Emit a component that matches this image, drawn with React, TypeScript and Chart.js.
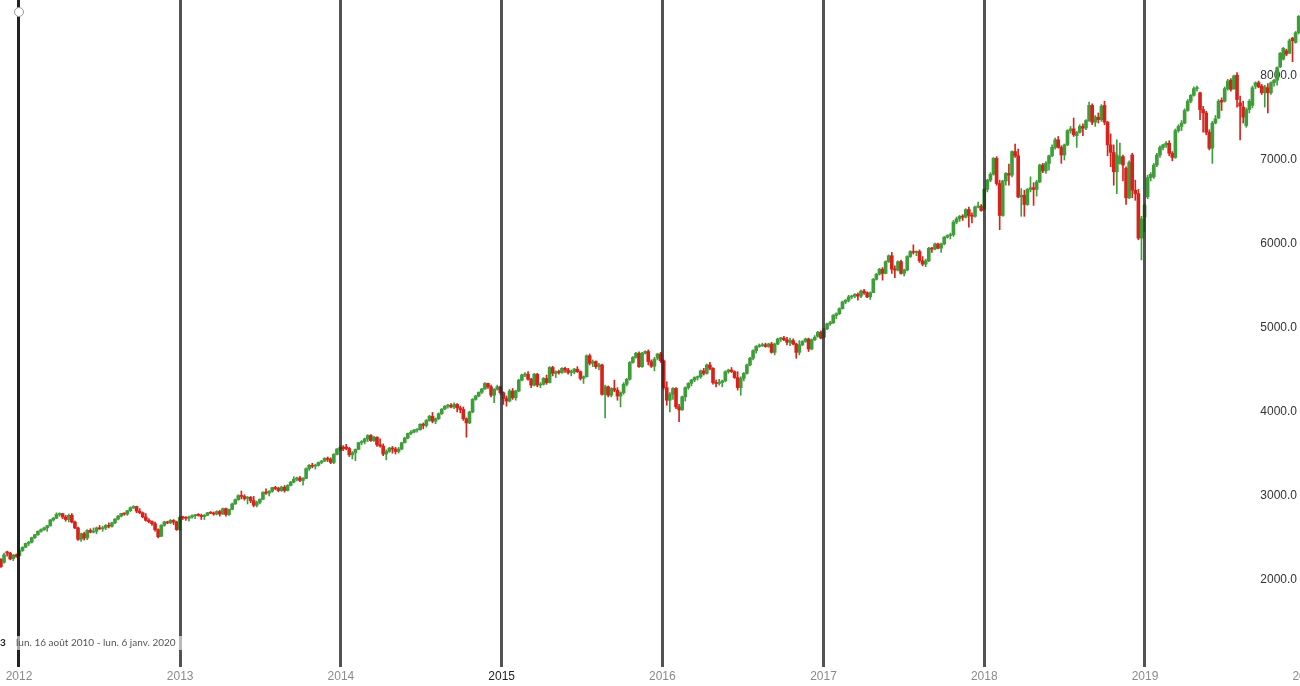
import { useEffect, useRef } from 'react';
import { Chart, registerables } from 'chart.js';

Chart.register(...registerables);

// Weekly OHLC rows [open, high, low, close], one array per year, each starting on its first Monday.
const w2011 = [
  [2340, 2350, 2235, 2250], [2245, 2255, 2150, 2160], [2210, 2320, 2200, 2300], [2335, 2345, 2285, 2320],
  [2320, 2330, 2240, 2250], [2255, 2305, 2230, 2295], [2300, 2310, 2270, 2280],
];
const w2012 = [
  [2290, 2360, 2285, 2350], [2350, 2395, 2340, 2390], [2390, 2440, 2385, 2435], [2435, 2460, 2410, 2450],
  [2450, 2510, 2440, 2505], [2505, 2545, 2495, 2540], [2540, 2585, 2530, 2580], [2580, 2610, 2570, 2600],
  [2600, 2630, 2590, 2620], [2620, 2650, 2580, 2645], [2645, 2720, 2640, 2715], [2715, 2745, 2700, 2735],
  [2735, 2800, 2730, 2780], [2780, 2800, 2760, 2790], [2790, 2795, 2730, 2750], [2750, 2770, 2700, 2720],
  [2720, 2785, 2690, 2770], [2770, 2790, 2680, 2690], [2690, 2700, 2610, 2620], [2620, 2630, 2470, 2485],
  [2485, 2560, 2460, 2550], [2550, 2570, 2475, 2500], [2500, 2600, 2480, 2590], [2590, 2610, 2560, 2570],
  [2570, 2620, 2560, 2580], [2580, 2630, 2550, 2620], [2620, 2650, 2600, 2610], [2610, 2640, 2580, 2620],
  [2620, 2660, 2600, 2650], [2650, 2680, 2620, 2640], [2640, 2690, 2630, 2680], [2680, 2730, 2670, 2725],
  [2725, 2770, 2715, 2760], [2760, 2795, 2750, 2790], [2790, 2800, 2770, 2785], [2785, 2830, 2770, 2825],
  [2825, 2870, 2815, 2860], [2860, 2885, 2850, 2875], [2875, 2880, 2800, 2820], [2820, 2850, 2790, 2800],
  [2800, 2810, 2740, 2750], [2750, 2790, 2700, 2710], [2710, 2730, 2680, 2695], [2695, 2705, 2650, 2670],
  [2670, 2690, 2580, 2600], [2600, 2610, 2500, 2515], [2520, 2660, 2515, 2650], [2650, 2700, 2640, 2690],
  [2690, 2700, 2670, 2680], [2680, 2720, 2670, 2710], [2710, 2720, 2660, 2690], [2690, 2700, 2590, 2600],
  [2600, 2760, 2590, 2745],
];
const w2013 = [
  [2745, 2760, 2720, 2740], [2740, 2755, 2710, 2735], [2735, 2760, 2700, 2750], [2750, 2775, 2735, 2765],
  [2765, 2780, 2730, 2775], [2775, 2790, 2760, 2770], [2770, 2785, 2720, 2755], [2755, 2780, 2720, 2770],
  [2770, 2805, 2765, 2800], [2800, 2815, 2790, 2795], [2795, 2810, 2770, 2785], [2785, 2825, 2775, 2815],
  [2815, 2830, 2760, 2785], [2785, 2855, 2780, 2850], [2850, 2855, 2760, 2780], [2780, 2845, 2770, 2840],
  [2840, 2915, 2835, 2905], [2905, 2965, 2900, 2955], [2955, 3015, 2950, 3005], [3005, 3060, 2965, 2995],
  [2995, 3015, 2950, 2970], [2970, 2995, 2905, 2985], [2985, 2995, 2920, 2945], [2945, 2995, 2870, 2890],
  [2890, 2940, 2870, 2925], [2925, 2965, 2905, 2960], [2960, 3050, 2955, 3045], [3045, 3085, 3020, 3035],
  [3035, 3065, 3000, 3055], [3055, 3105, 3045, 3100], [3100, 3115, 3075, 3090], [3090, 3105, 3050, 3065],
  [3065, 3115, 3055, 3105], [3105, 3125, 3045, 3065], [3065, 3135, 3060, 3125], [3125, 3175, 3120, 3165],
  [3165, 3230, 3155, 3200], [3200, 3225, 3180, 3215], [3215, 3235, 3170, 3185], [3185, 3220, 3130, 3210],
  [3210, 3335, 3205, 3325], [3325, 3375, 3305, 3365], [3365, 3390, 3335, 3355], [3355, 3380, 3320, 3365],
  [3365, 3405, 3355, 3400], [3400, 3425, 3385, 3415], [3415, 3455, 3410, 3450], [3450, 3465, 3410, 3435],
  [3435, 3455, 3385, 3400], [3400, 3505, 3385, 3495], [3495, 3565, 3490, 3560], [3560, 3595, 3540, 3575],
];
const w2014 = [
  [3580, 3600, 3540, 3560], [3585, 3615, 3550, 3565], [3565, 3580, 3470, 3490], [3490, 3530, 3440, 3515],
  [3515, 3560, 3420, 3555], [3555, 3640, 3550, 3635], [3635, 3660, 3610, 3645], [3645, 3690, 3620, 3680],
  [3680, 3730, 3650, 3720], [3720, 3730, 3650, 3660], [3660, 3710, 3650, 3700], [3700, 3705, 3590, 3610],
  [3610, 3680, 3580, 3595], [3595, 3620, 3480, 3500], [3500, 3550, 3430, 3530], [3530, 3580, 3520, 3570],
  [3570, 3590, 3510, 3560], [3560, 3580, 3500, 3530], [3530, 3580, 3510, 3560], [3560, 3640, 3550, 3635],
  [3635, 3700, 3630, 3690], [3690, 3750, 3680, 3745], [3745, 3780, 3730, 3760], [3760, 3790, 3750, 3785],
  [3785, 3800, 3760, 3790], [3790, 3860, 3785, 3855], [3855, 3870, 3800, 3840], [3840, 3910, 3820, 3900],
  [3900, 3960, 3890, 3950], [3950, 3995, 3870, 3890], [3890, 3930, 3860, 3920], [3920, 3990, 3910, 3980],
  [3980, 4040, 3970, 4035], [4035, 4075, 4030, 4070], [4070, 4090, 4045, 4080], [4080, 4100, 4050, 4060],
  [4060, 4110, 4040, 4090], [4090, 4100, 4000, 4050], [4050, 4070, 3990, 4030], [4030, 4060, 3900, 3920],
  [3920, 3930, 3700, 3870], [3870, 4010, 3860, 4000], [4000, 4160, 3990, 4150], [4150, 4200, 4140, 4190],
  [4190, 4240, 4180, 4235], [4235, 4280, 4220, 4275], [4275, 4350, 4270, 4340], [4340, 4345, 4280, 4300],
  [4300, 4320, 4180, 4200], [4200, 4280, 4110, 4270], [4270, 4320, 4260, 4300], [4300, 4310, 4210, 4230],
];
const w2015 = [
  [4230, 4240, 4090, 4160], [4160, 4190, 4070, 4130], [4130, 4270, 4120, 4250], [4250, 4280, 4150, 4170],
  [4170, 4260, 4140, 4250], [4250, 4390, 4240, 4380], [4380, 4450, 4370, 4440], [4440, 4470, 4420, 4450],
  [4450, 4480, 4380, 4390], [4390, 4400, 4290, 4320], [4320, 4460, 4310, 4450], [4450, 4460, 4300, 4320],
  [4320, 4350, 4290, 4330], [4330, 4410, 4320, 4400], [4400, 4440, 4330, 4350], [4350, 4540, 4345, 4530],
  [4530, 4545, 4430, 4460], [4460, 4490, 4410, 4480], [4480, 4500, 4450, 4470], [4470, 4530, 4460, 4520],
  [4520, 4535, 4470, 4500], [4500, 4520, 4450, 4470], [4470, 4500, 4430, 4475], [4475, 4520, 4455, 4510],
  [4510, 4540, 4470, 4480], [4480, 4490, 4380, 4400], [4400, 4430, 4340, 4420], [4420, 4680, 4415, 4670],
  [4670, 4690, 4560, 4580], [4580, 4620, 4540, 4600], [4600, 4610, 4520, 4540], [4540, 4580, 4500, 4560],
  [4560, 4570, 4200, 4210], [4210, 4320, 3930, 4300], [4300, 4310, 4180, 4200], [4200, 4290, 4180, 4280],
  [4280, 4380, 4240, 4260], [4260, 4290, 4140, 4190], [4190, 4240, 4060, 4230], [4230, 4350, 4210, 4330],
  [4330, 4400, 4310, 4390], [4390, 4600, 4380, 4590], [4590, 4660, 4580, 4650], [4650, 4710, 4640, 4700],
  [4700, 4715, 4530, 4540], [4540, 4710, 4530, 4700], [4700, 4730, 4690, 4720], [4720, 4740, 4560, 4600],
  [4600, 4620, 4530, 4545], [4545, 4650, 4490, 4630], [4640, 4700, 4620, 4690], [4690, 4710, 4590, 4610],
];
const w2016 = [
  [4610, 4620, 4270, 4290], [4290, 4360, 4080, 4140], [4140, 4230, 4000, 4210], [4210, 4290, 4150, 4280],
  [4280, 4290, 4040, 4060], [4060, 4090, 3885, 4025], [4025, 4190, 4020, 4180], [4180, 4300, 4130, 4290],
  [4290, 4350, 4270, 4340], [4340, 4390, 4310, 4380], [4380, 4420, 4360, 4410], [4410, 4430, 4380, 4420],
  [4420, 4500, 4400, 4490], [4490, 4520, 4440, 4460], [4460, 4570, 4450, 4560], [4560, 4590, 4500, 4520],
  [4520, 4530, 4330, 4350], [4350, 4380, 4300, 4340], [4340, 4390, 4320, 4350], [4350, 4380, 4300, 4370],
  [4370, 4490, 4360, 4480], [4480, 4510, 4460, 4500], [4500, 4530, 4470, 4480], [4480, 4490, 4400, 4410],
  [4410, 4480, 4260, 4290], [4290, 4420, 4200, 4400], [4400, 4470, 4370, 4460], [4460, 4570, 4450, 4560],
  [4560, 4650, 4550, 4640], [4640, 4740, 4620, 4730], [4730, 4790, 4700, 4780], [4780, 4810, 4770, 4790],
  [4790, 4820, 4780, 4800], [4800, 4820, 4770, 4780], [4780, 4820, 4770, 4810], [4810, 4830, 4700, 4710],
  [4710, 4820, 4680, 4810], [4810, 4880, 4800, 4870], [4870, 4890, 4840, 4880], [4880, 4900, 4850, 4860],
  [4860, 4890, 4800, 4830], [4830, 4880, 4790, 4850], [4850, 4870, 4800, 4810], [4810, 4820, 4640, 4710],
  [4710, 4850, 4680, 4800], [4800, 4850, 4790, 4840], [4840, 4880, 4830, 4870], [4870, 4880, 4720, 4750],
  [4750, 4870, 4740, 4860], [4860, 4910, 4850, 4890], [4900, 4960, 4890, 4950], [4950, 4965, 4870, 4880],
];
const w2017 = [
  [4890, 5000, 4880, 4990], [4990, 5060, 4980, 5050], [5050, 5080, 5030, 5060], [5060, 5160, 5055, 5150],
  [5150, 5180, 5110, 5170], [5170, 5240, 5160, 5230], [5230, 5320, 5225, 5310], [5310, 5340, 5290, 5330],
  [5330, 5390, 5310, 5370], [5370, 5390, 5350, 5380], [5380, 5410, 5360, 5400], [5400, 5420, 5330, 5380],
  [5380, 5450, 5360, 5440], [5440, 5460, 5400, 5420], [5420, 5430, 5360, 5370], [5370, 5430, 5340, 5420],
  [5420, 5590, 5420, 5580], [5580, 5650, 5570, 5640], [5640, 5710, 5630, 5700], [5700, 5720, 5570, 5650],
  [5650, 5800, 5645, 5790], [5790, 5870, 5780, 5860], [5860, 5900, 5650, 5700], [5700, 5740, 5600, 5690],
  [5690, 5800, 5680, 5790], [5790, 5810, 5640, 5650], [5650, 5700, 5620, 5690], [5690, 5860, 5680, 5850],
  [5850, 5920, 5840, 5910], [5910, 5990, 5880, 5900], [5900, 5920, 5860, 5910], [5910, 5930, 5780, 5800],
  [5800, 5850, 5740, 5760], [5760, 5820, 5730, 5800], [5800, 5960, 5790, 5950], [5950, 5960, 5900, 5940],
  [5940, 6010, 5930, 6000], [6000, 6010, 5940, 5950], [5950, 6010, 5900, 6000], [6000, 6090, 5990, 6080],
  [6080, 6110, 6070, 6100], [6100, 6130, 6060, 6110], [6110, 6280, 6090, 6260], [6260, 6320, 6240, 6300],
  [6300, 6340, 6270, 6330], [6330, 6350, 6280, 6320], [6320, 6420, 6310, 6410], [6410, 6440, 6200, 6340],
  [6340, 6370, 6250, 6330], [6330, 6450, 6320, 6440], [6440, 6500, 6430, 6450], [6450, 6470, 6390, 6400],
];
const w2018 = [
  [6420, 6660, 6400, 6650], [6650, 6770, 6620, 6760], [6760, 6850, 6740, 6830], [6830, 7030, 6820, 7020],
  [7020, 7040, 6700, 6720], [6720, 6760, 6170, 6340], [6340, 6760, 6330, 6750], [6750, 6850, 6700, 6840],
  [6840, 6950, 6700, 6820], [6820, 7110, 6800, 7100], [7100, 7190, 7030, 7050], [7050, 7130, 6550, 6560],
  [6560, 6660, 6330, 6580], [6580, 6640, 6330, 6470], [6470, 6660, 6460, 6650], [6650, 6800, 6620, 6670],
  [6670, 6730, 6460, 6650], [6650, 6760, 6570, 6740], [6740, 6950, 6730, 6940], [6940, 6960, 6850, 6870],
  [6870, 6980, 6840, 6960], [6960, 7060, 6880, 7050], [7050, 7180, 7040, 7150], [7150, 7260, 7130, 7240],
  [7240, 7280, 7140, 7150], [7150, 7170, 6960, 7060], [7060, 7190, 7000, 7180], [7180, 7360, 7170, 7350],
  [7350, 7400, 7320, 7370], [7370, 7500, 7280, 7300], [7290, 7340, 7150, 7330], [7330, 7420, 7320, 7400],
  [7400, 7430, 7290, 7380], [7380, 7480, 7360, 7470], [7470, 7690, 7460, 7650], [7650, 7670, 7420, 7450],
  [7450, 7530, 7400, 7510], [7510, 7560, 7440, 7480], [7480, 7660, 7460, 7640], [7650, 7700, 7420, 7450],
  [7450, 7460, 7050, 7180], [7180, 7310, 6920, 7090], [7090, 7180, 6700, 6860], [6860, 7240, 6600, 7060],
  [6960, 7200, 6950, 7040], [7040, 7060, 6750, 6940], [6900, 6920, 6470, 6550], [6550, 6990, 6540, 6970],
  [7060, 7080, 6550, 6640], [6640, 6760, 6520, 6600], [6600, 6650, 6050, 6070], [6070, 6330, 5810, 6300],
  [6320, 6480, 6150, 6460],
];
const w2019 = [
  [6560, 6820, 6540, 6790], [6790, 6850, 6750, 6830], [6800, 6960, 6780, 6940], [6940, 7080, 6920, 7060],
  [7060, 7170, 7030, 7150], [7150, 7190, 7120, 7180], [7180, 7220, 7150, 7200], [7200, 7230, 7050, 7080],
  [7080, 7100, 6990, 7030], [7030, 7370, 7020, 7350], [7350, 7420, 7330, 7400], [7400, 7470, 7350, 7440],
  [7440, 7610, 7430, 7590], [7590, 7720, 7580, 7700], [7700, 7780, 7680, 7770], [7770, 7870, 7760, 7850],
  [7850, 7880, 7820, 7860], [7800, 7810, 7480, 7600], [7600, 7640, 7330, 7560], [7560, 7580, 7300, 7330],
  [7330, 7360, 7120, 7140], [7140, 7460, 6960, 7440], [7440, 7530, 7430, 7490], [7500, 7720, 7490, 7700],
  [7710, 7740, 7590, 7690], [7700, 7870, 7690, 7850], [7850, 7960, 7830, 7940], [7950, 7970, 7820, 7840],
  [7850, 8010, 7840, 8000], [8010, 8040, 7630, 7720], [7680, 7760, 7240, 7640], [7630, 7700, 7440, 7510],
  [7410, 7620, 7390, 7600], [7600, 7720, 7560, 7700], [7650, 7880, 7620, 7860], [7880, 7930, 7850, 7920],
  [7920, 7940, 7860, 7870], [7880, 7900, 7780, 7800], [7800, 7890, 7630, 7870], [7860, 7910, 7560, 7800],
  [7800, 7930, 7780, 7920], [7920, 7960, 7880, 7950], [7950, 8110, 7890, 8100], [8110, 8280, 8100, 8270],
  [8200, 8340, 8190, 8330], [8300, 8320, 8240, 8260], [8270, 8440, 8270, 8420], [8450, 8460, 8170, 8420],
  [8400, 8530, 8390, 8516], [8516, 8720, 8500, 8710], [8710, 8800, 8700, 8780], [8780, 8850, 8700, 8800],
];
const w2020 = [[8800, 8930, 8780, 8920]];

const yearBlocks: [string, number[][]][] = [
  ['2011-11-14', w2011], ['2012-01-02', w2012], ['2013-01-07', w2013], ['2014-01-06', w2014],
  ['2015-01-05', w2015], ['2016-01-04', w2016], ['2017-01-02', w2017], ['2018-01-01', w2018],
  ['2019-01-07', w2019], ['2020-01-06', w2020],
];

const yearTicks = [2012, 2013, 2014, 2015, 2016, 2017, 2018, 2019, 2020];
const priceTicks = [2000, 3000, 4000, 5000, 6000, 7000, 8000];
const highlightedYear = 2015;
const cursorYear = 2012;
const rangeText = 'lun. 16 août 2010 - lun. 6 janv. 2020';
const cornerText = '3';

const DAY = 86400000;
const X_MIN = Date.UTC(2011, 10, 18, 20, 30);
const X_MAX = Date.UTC(2019, 11, 19);
const Y_MIN = 964.3;
const Y_MAX = 8904.8;

const UP = '#3f9e3a';
const DOWN = '#d8221c';

type Bar = { x: number; o: number; h: number; l: number; c: number };

function buildBars(): Bar[] {
  const out: Bar[] = [];
  for (const [start, rows] of yearBlocks) {
    const t0 = Date.parse(start + 'T00:00:00Z');
    rows.forEach((r, i) => out.push({ x: t0 + i * 7 * DAY, o: r[0], h: r[1], l: r[2], c: r[3] }));
  }
  return out;
}

const overlayPlugin = {
  id: 'overlayText',
  afterDraw(chart: any) {
    const ctx = chart.ctx as CanvasRenderingContext2D;
    const xs = chart.scales.x;
    ctx.save();
    ctx.fillStyle = 'rgba(255,255,255,0.6)';
    ctx.fillRect(12, 636, 172, 14);
    ctx.textBaseline = 'middle';
    ctx.textAlign = 'left';
    ctx.font = '10px Lato, "Open Sans", sans-serif';
    ctx.fillStyle = '#555';
    ctx.fillText(rangeText, 16, 643);
    ctx.font = 'bold 10px Lato, "Open Sans", sans-serif';
    ctx.fillStyle = '#222';
    ctx.fillText(cornerText, 0, 643);
    const cx = xs.getPixelForValue(Date.UTC(cursorYear, 0, 1));
    ctx.beginPath();
    ctx.arc(cx, 12, 4.5, 0, Math.PI * 2);
    ctx.fillStyle = '#fff';
    ctx.fill();
    ctx.strokeStyle = '#9a9a9a';
    ctx.lineWidth = 1;
    ctx.stroke();
    ctx.restore();
  },
};

export default function App() {
  const ref = useRef<HTMLCanvasElement | null>(null);

  useEffect(() => {
    if (!ref.current) return;
    const bars = buildBars();
    const colorOf = (i: number) => (bars[i] && bars[i].c >= bars[i].o ? UP : DOWN);
    const chart = new Chart(ref.current, {
      type: 'bar',
      data: {
        datasets: [
          {
            data: bars.map((b) => ({ x: b.x, y: [b.l, b.h] })) as any,
            backgroundColor: (c: any) => colorOf(c.dataIndex),
            barThickness: 1,
            grouped: false,
            borderWidth: 0,
          },
          {
            data: bars.map((b) => ({ x: b.x, y: [b.o, b.c] })) as any,
            backgroundColor: (c: any) => colorOf(c.dataIndex),
            barThickness: 3,
            minBarLength: 1,
            grouped: false,
            borderWidth: 0,
          },
        ],
      },
      options: {
        responsive: false,
        animation: false,
        events: [],
        layout: { padding: 0, autoPadding: false },
        plugins: { legend: { display: false }, tooltip: { enabled: false } },
        scales: {
          x: {
            type: 'linear',
            min: X_MIN,
            max: X_MAX,
            offset: false,
            afterBuildTicks: (s: any) => {
              s.ticks = yearTicks.map((y) => ({ value: Date.UTC(y, 0, 1) }));
            },
            afterFit: (s: any) => {
              s.height = 19;
              s.paddingLeft = 0;
              s.paddingRight = 0;
            },
            ticks: {
              autoSkip: false,
              maxRotation: 0,
              padding: 2,
              font: { size: 12, family: 'Liberation Sans, Arial, sans-serif' },
              color: (c: any) =>
                c.tick && new Date(c.tick.value).getUTCFullYear() === highlightedYear ? '#222' : '#8a8a8a',
              callback: (v: any) => String(new Date(Number(v)).getUTCFullYear()),
            },
            grid: {
              z: 1,
              offset: false,
              lineWidth: 3,
              drawTicks: false,
              color: (c: any) =>
                c.tick && new Date(c.tick.value).getUTCFullYear() === cursorYear
                  ? 'rgba(15,15,15,0.92)'
                  : 'rgba(40,40,40,0.8)',
            },
            border: { display: false },
          },
          y: {
            type: 'linear',
            position: 'right',
            min: Y_MIN,
            max: Y_MAX,
            afterBuildTicks: (s: any) => {
              s.ticks = priceTicks.map((v) => ({ value: v }));
            },
            afterFit: (s: any) => {
              s.width = 0;
              s.paddingTop = 0;
              s.paddingBottom = 0;
            },
            ticks: {
              mirror: true,
              padding: -3,
              color: '#333',
              font: { size: 12, family: 'Liberation Sans, Arial, sans-serif' },
              callback: (v: any) => Number(v).toFixed(1),
            },
            grid: { display: false },
            border: { display: false },
          },
        },
      } as any,
      plugins: [overlayPlugin],
    });
    return () => chart.destroy();
  }, []);

  return (
    <div style={{ position: 'fixed', left: 0, top: 0, width: 1300, height: 686, overflow: 'hidden', background: '#fff' }}>
      <canvas ref={ref} width={1300} height={686} style={{ display: 'block', width: 1300, height: 686 }} />
    </div>
  );
}
